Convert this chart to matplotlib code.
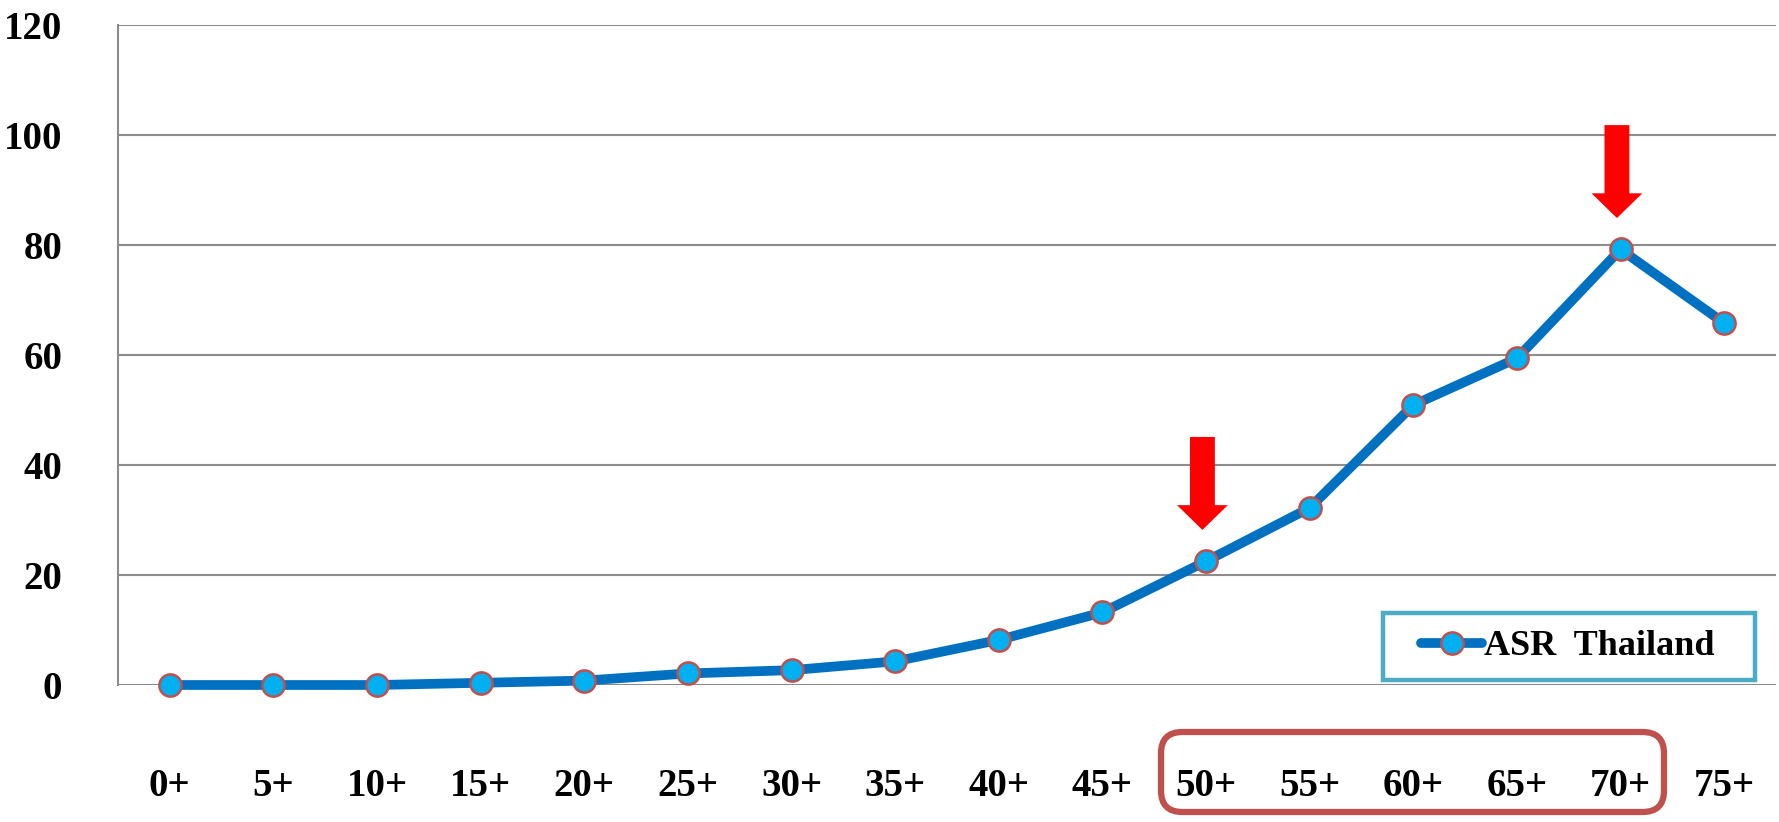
import matplotlib
matplotlib.use("Agg")
import matplotlib.pyplot as plt
from matplotlib.patches import Polygon, FancyBboxPatch, Rectangle

# Age-specific incidence rate, Thailand
age_groups = ["0+", "5+", "10+", "15+", "20+", "25+", "30+", "35+",
              "40+", "45+", "50+", "55+", "60+", "65+", "70+", "75+"]
asr_thailand = [0.0, 0.0, 0.0, 0.4, 0.8, 2.1, 2.7, 4.3,
                8.2, 13.2, 22.5, 32.2, 50.9, 59.4, 79.2, 65.8]
y_ticks = [0, 20, 40, 60, 80, 100, 120]
highlight_groups = ["50+", "70+"]

plt.rcParams["font.family"] = ["Liberation Serif", "DejaVu Serif"]
plt.rcParams["font.weight"] = "bold"

fig = plt.figure(figsize=(17.79, 8.22), dpi=100)
W, H = 1779, 822
ax = fig.add_axes([118 / W, 1 - 685 / H, 1658 / W, 660 / H])

x = list(range(len(age_groups)))
ax.plot(x, asr_thailand, color="#0070C0", lw=7, marker="o", ms=16,
        mfc="#00B0F0", mec="#C0504D", mew=1.8, clip_on=False, zorder=5,
        label="ASR  Thailand", solid_capstyle="round")

ax.set_xlim(-0.5, len(age_groups) - 0.5)
ax.set_ylim(0, 120)
ax.set_yticks(y_ticks)
ax.set_xticks(x)
ax.set_xticklabels(age_groups)
ax.tick_params(axis="y", length=0, pad=40, labelsize=28)
ax.tick_params(axis="x", length=0, pad=60, labelsize=28)
for lab in ax.get_xticklabels() + ax.get_yticklabels():
    lab.set_fontweight("bold")

ax.grid(axis="y", color="#8c8c8c", lw=1.5)
ax.set_axisbelow(True)
for side in ("top", "right", "bottom"):
    ax.spines[side].set_visible(False)
ax.spines["left"].set_color("#8c8c8c")
ax.spines["left"].set_linewidth(1.5)

# Red down arrows over the highlighted age groups
def down_arrow(xc, y_top, y_neck, y_tip, shaft=0.24, head=0.49):
    pts = [(xc - shaft / 2, y_top), (xc + shaft / 2, y_top),
           (xc + shaft / 2, y_neck), (xc + head / 2, y_neck),
           (xc, y_tip), (xc - head / 2, y_neck), (xc - shaft / 2, y_neck)]
    ax.add_patch(Polygon(pts, closed=True, fc="#FF0000", ec="none",
                         zorder=6, clip_on=False))

for g in highlight_groups:
    i = age_groups.index(g)
    v = asr_thailand[i]
    down_arrow(i - 0.035, v + 22.6, v + 10.2, v + 5.7)

# Legend with a teal frame
leg = ax.legend(loc="center", bbox_to_anchor=(0.8745, 0.058), frameon=False,
                prop={"weight": "bold", "size": 26}, handlelength=1.7,
                handletextpad=0.05, markerscale=1.0)
fig.add_artist(Rectangle((1383 / W, 1 - 680 / H), 372 / W, 67 / H,
                         transform=fig.transFigure, fill=False,
                         ec="#4BACC6", lw=3.2, zorder=10))

# Rounded red box around the older age-group labels
fig.add_artist(FancyBboxPatch((1161 / W, 1 - 812 / H), 503 / W, 80 / H,
                              boxstyle="round,pad=0,rounding_size=0.012",
                              transform=fig.transFigure, fill=False,
                              ec="#C0504D", lw=4.5, zorder=10,
                              mutation_aspect=W / H))

fig.savefig("out.png", dpi=100, facecolor="white")
